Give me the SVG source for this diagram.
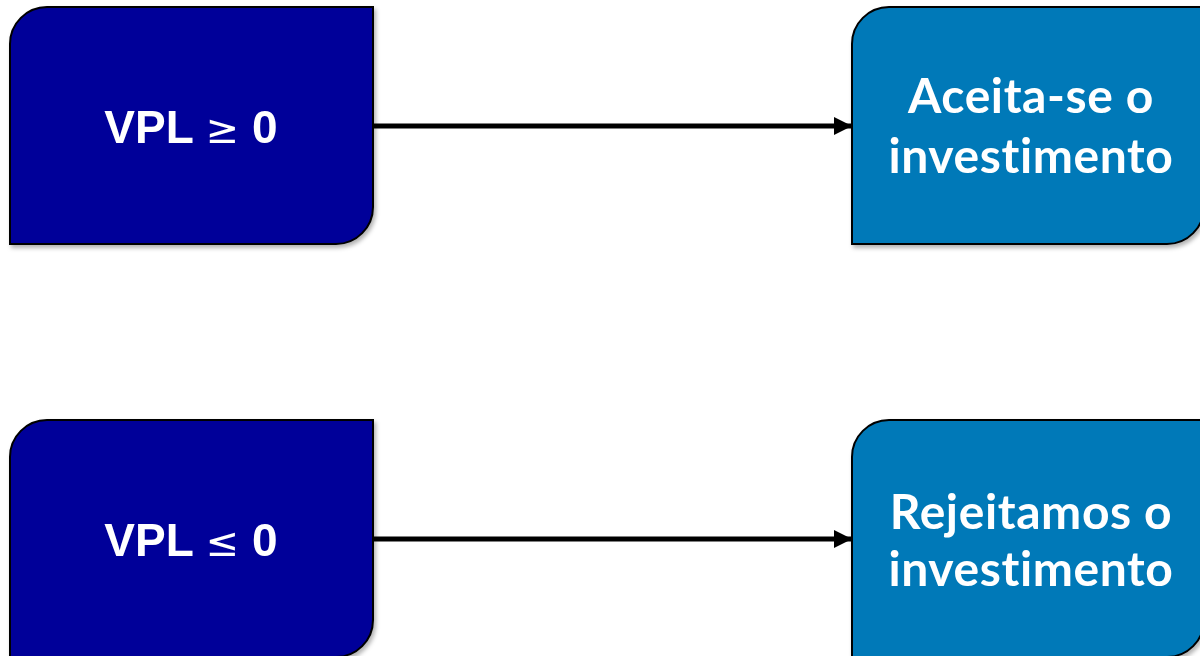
<svg xmlns="http://www.w3.org/2000/svg" width="1200" height="656" viewBox="0 0 1200 656">
<style>
.left{fill:#000099;stroke:#000;stroke-width:2}
.right{fill:#0079B8;stroke:#000;stroke-width:2}
.t1{font-family:"Liberation Sans",Arial,sans-serif;font-weight:bold;font-size:46px;fill:#fff;text-anchor:middle}
.sym{font-family:"DejaVu Sans",sans-serif;font-weight:normal;font-size:40px}
.t2{font-family:Lato,"Open Sans",sans-serif;font-weight:bold;font-size:48px;letter-spacing:0.6px;fill:#fff;text-anchor:middle;font-variant-ligatures:none}
.conn{stroke:#000;stroke-width:5;fill:none}
</style>
<defs>
<marker id="ah" viewBox="0 0 10 10" refX="10" refY="5" markerWidth="3.8" markerHeight="3.6" markerUnits="strokeWidth" orient="auto">
<path d="M0,0 L10,5 L0,10 z" fill="#000"/>
</marker>
<filter id="sh" x="-5%" y="-5%" width="115%" height="115%">
<feDropShadow dx="2" dy="3" stdDeviation="2" flood-color="#000" flood-opacity="0.3"/>
</filter>
</defs>
<g id="connectors">
<line class="conn" x1="373" y1="126" x2="852" y2="126" marker-end="url(#ah)"/>
<line class="conn" x1="373" y1="539" x2="852" y2="539" marker-end="url(#ah)"/>
</g>
<g id="node-vpl-ge" filter="url(#sh)">
<path class="left" d="M47,7 H373 V207 A37,37 0 0 1 336,244 H10 V44 A37,37 0 0 1 47,7 Z"/>
<text class="t1" x="191" y="143">VPL <tspan class="sym">≥</tspan> 0</text>
</g>
<g id="node-aceita" filter="url(#sh)">
<path class="right" d="M889,7 H1204 V207 A37,37 0 0 1 1167,244 H852 V44 A37,37 0 0 1 889,7 Z"/>
<text class="t2" x="1031" y="113">Aceita-se o</text>
<text class="t2" x="1031" y="173">investimento</text>
</g>
<g id="node-vpl-le" filter="url(#sh)">
<path class="left" d="M47,420 H373 V620 A37,37 0 0 1 336,657 H10 V457 A37,37 0 0 1 47,420 Z"/>
<text class="t1" x="191" y="556">VPL <tspan class="sym">≤</tspan> 0</text>
</g>
<g id="node-rejeitamos" filter="url(#sh)">
<path class="right" d="M889,420 H1204 V620 A37,37 0 0 1 1167,657 H852 V457 A37,37 0 0 1 889,420 Z"/>
<text class="t2" x="1031" y="529">Rejeitamos o</text>
<text class="t2" x="1031" y="586">investimento</text>
</g>
</svg>
